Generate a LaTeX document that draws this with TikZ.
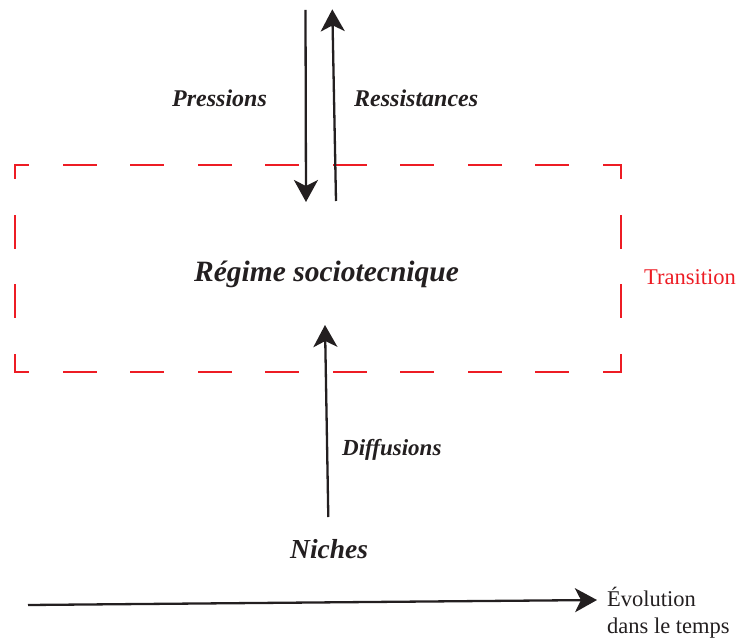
\documentclass[tikz,border=0pt]{standalone}
\usepackage{fontspec}
\setmainfont{Liberation Serif}
\usetikzlibrary{arrows.meta}
\definecolor{trred}{RGB}{237,28,36}
\definecolor{ink}{RGB}{35,31,32}
\tikzset{
  arr/.style={draw=ink, line width=2.3pt, -{Stealth[length=22pt,width=24pt,inset=6pt]}},
  lbl/.style={inner sep=0pt, anchor=base west, text=ink, font=\fontsize{24}{27}\selectfont\bfseries\itshape},
  big/.style={inner sep=0pt, anchor=base west, text=ink, font=\fontsize{29.5}{33}\selectfont\bfseries\itshape},
  plain/.style={inner sep=0pt, anchor=base west, text=ink, font=\fontsize{22.5}{27}\selectfont},
  hside/.style={draw=trred, line width=2pt, line cap=rect, dash pattern=on 32pt off 35.56pt, dash phase=19pt},
  vside/.style={draw=trred, line width=2pt, line cap=rect, dash pattern=on 32pt off 37.67pt, dash phase=19pt}
}
\begin{document}
\begin{tikzpicture}[x=1pt,y=-1pt]
\useasboundingbox (0,0) rectangle (741,639);
% dashed transition box
\coordinate (tl) at (15,165);
\coordinate (tr) at (621,165);
\coordinate (br) at (621,372);
\coordinate (bl) at (15,372);
\draw[hside] (tl) -- (tr);
\draw[hside] (bl) -- (br);
\draw[vside] (tl) -- (bl);
\draw[vside] (tr) -- (br);
% texts
\node[lbl] (press) at (172,107) {Pressions};
\node[lbl] (resist) at (354,107) {Ressistances};
\node[big] (regime) at (194,281) {Régime sociotecnique};
\node[lbl, font=\fontsize{23}{27}\selectfont\bfseries\itshape] (diff) at (342,455) {Diffusions};
\node[big, font=\fontsize{27.5}{32}\selectfont\bfseries\itshape] (niches) at (290,558) {Niches};
\node[plain, text=trred] (trans) at (644,284) {Transition};
\node[plain] (evo1) at (607,606) {Évolution};
\node[plain] (evo2) at (607,633) {dans le temps};
% arrows
\coordinate (pA) at (305.5,10);
\coordinate (pB) at (306,202);
\coordinate (rA) at (336,201);
\coordinate (rB) at (332.3,9.3);
\coordinate (dA) at (328.3,517);
\coordinate (dB) at (325,325);
\coordinate (tA) at (28,605);
\coordinate (tB) at (597,600);
\draw[arr] (pA) -- (pB);
\draw[arr] (rA) -- (rB);
\draw[arr] (dA) -- (dB);
\draw[arr] (tA) -- (tB);
\end{tikzpicture}
\end{document}
